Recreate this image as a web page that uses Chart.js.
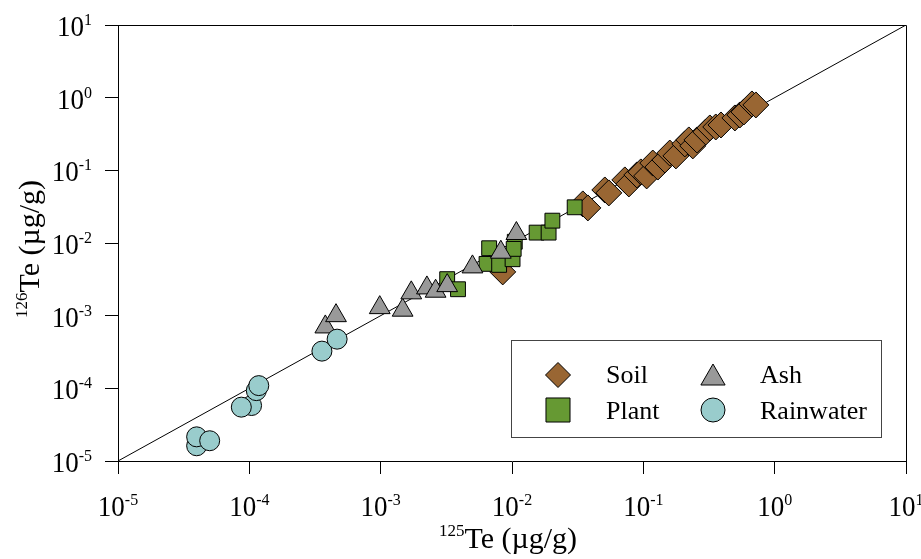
<!DOCTYPE html>
<html>
<head>
<meta charset="utf-8">
<script src="https://cdn.jsdelivr.net/npm/chart.js@4.4.0/dist/chart.umd.min.js"></script>
<style>
  body { margin: 0; background: #fff; }
  #wrap { width: 921px; height: 559px; }
</style>
</head>
<body>
<div id="wrap"><canvas id="teChart" width="921" height="559"></canvas></div>
<script>
// ----------- DATA (µg/g) -----------
const soilX = [0.0085, 0.0346, 0.0378, 0.0509, 0.0546, 0.0723, 0.0776, 0.0893, 0.0957, 0.106,
  0.118, 0.129, 0.146, 0.159, 0.177, 0.207, 0.222, 0.238, 0.256, 0.299,
  0.321, 0.356, 0.390, 0.498, 0.543, 0.583, 0.671, 0.719];
const soilY = [0.0040, 0.0345, 0.0304, 0.0537, 0.0489, 0.0738, 0.0650, 0.0865, 0.0951, 0.0838,
  0.126, 0.111, 0.139, 0.173, 0.158, 0.231, 0.262, 0.217, 0.262, 0.337,
  0.383, 0.395, 0.421, 0.526, 0.578, 0.636, 0.819, 0.794];

const plantX = [0.00321, 0.00388, 0.0067, 0.0064, 0.00798, 0.0101, 0.0105, 0.0103, 0.0154, 0.0190, 0.0203, 0.0300];
const plantY = [0.00318, 0.00231, 0.00847, 0.00516, 0.0050, 0.00598, 0.0104, 0.0083, 0.0139, 0.0139, 0.0203, 0.0310];

const ashX = [3.79e-4, 4.57e-4, 9.84e-4, 1.47e-3, 1.71e-3, 2.25e-3, 2.62e-3, 3.21e-3, 5.0e-3, 8.22e-3, 1.08e-2];
const ashY = [7.0e-4, 1.0e-3, 1.29e-3, 1.19e-3, 2.06e-3, 2.41e-3, 2.17e-3, 2.59e-3, 4.69e-3, 7.47e-3, 1.35e-2];

const rainX = [3.97e-5, 3.97e-5, 4.99e-5, 1.04e-4, 8.69e-5, 1.13e-4, 1.18e-4, 3.57e-4, 4.66e-4];
const rainY = [1.62e-5, 2.15e-5, 1.9e-5, 5.8e-5, 5.51e-5, 9.3e-5, 1.09e-4, 3.25e-4, 4.75e-4];

const lineX = [1e-5, 10];   // 1:1 line
const lineY = [1e-5, 10];

const decades = [-5, -4, -3, -2, -1, 0, 1];
const seriesNames = ["Soil", "Plant", "Ash", "Rainwater"];

const SOIL = "#996633", PLANT = "#669933", ASH = "#999999", RAIN = "#99cccc";
const SERIF = '"Liberation Serif", "Times New Roman", serif';

const toPoints = (xs, ys) => xs.map((x, i) => ({ x: x, y: ys[i] }));
const decadeTicks = (scale) => { scale.ticks = decades.map(e => ({ value: Math.pow(10, e) })); };

// text with a slight vertical stretch like the original figure
function txt(ctx, s, x, y, size, align, sy) {
  ctx.save();
  ctx.translate(x, y);
  ctx.scale(1, sy || 1);
  ctx.font = size + "px " + SERIF;
  ctx.textAlign = align || "left";
  ctx.textBaseline = "alphabetic";
  ctx.fillStyle = "#000";
  ctx.fillText(s, 0, 0);
  ctx.restore();
}
function width(ctx, s, size) {
  ctx.font = size + "px " + SERIF;
  return ctx.measureText(s).width;
}
function pow10(ctx, e, x, y, align) {
  const w1 = width(ctx, "10", 27), ex = String(e), w2 = width(ctx, ex, 16);
  const start = align === "center" ? x - (w1 + w2) / 2 : x - (w1 + w2);
  txt(ctx, "10", start, y, 27, "left", 1.1);
  txt(ctx, ex, start + w1, y - 11, 16, "left", 1.1);
}

const decorations = {
  id: "decorations",
  beforeDatasetsDraw(chart) {
    const { ctx, chartArea: a } = chart;
    ctx.save();
    ctx.strokeStyle = "#000";
    ctx.lineWidth = 1;
    ctx.beginPath();
    ctx.moveTo(Math.round(a.left) + 0.5, Math.round(a.top) + 0.5);
    ctx.lineTo(Math.round(a.right) + 0.5, Math.round(a.top) + 0.5);
    ctx.lineTo(Math.round(a.right) + 0.5, Math.round(a.bottom) + 0.5);
    ctx.stroke();
    ctx.restore();
  },
  afterDraw(chart) {
    const { ctx, chartArea: a } = chart;
    const xs = chart.scales.x, ys = chart.scales.y;
    // tick labels
    xs.ticks.forEach(t => {
      const e = Math.round(Math.log10(t.value));
      pow10(ctx, e, xs.getPixelForValue(t.value), a.bottom + 55, "center");
    });
    ys.ticks.forEach(t => {
      const e = Math.round(Math.log10(t.value));
      pow10(ctx, e, 92, ys.getPixelForValue(t.value) + 11, "right");
    });
    // axis titles
    const main = "Te (\u00b5g/g)";
    const wSupX = width(ctx, "125", 17), wMain = width(ctx, main, 30);
    const cx = (a.left + a.right) / 2 - 4;
    const sx = cx - (wSupX + wMain) / 2;
    txt(ctx, "125", sx, 536, 17);
    txt(ctx, main, sx + wSupX, 548, 30);

    ctx.save();
    ctx.translate(39, (a.top + a.bottom) / 2 + 6);
    ctx.rotate(-Math.PI / 2);
    const wSupY = width(ctx, "126", 17);
    const sy = -(wSupY + wMain) / 2;
    txt(ctx, "126", sy, -12, 17);
    txt(ctx, main, sy + wSupY, 0, 30);
    ctx.restore();

    // legend
    ctx.save();
    ctx.strokeStyle = "#444";
    ctx.lineWidth = 1;
    ctx.strokeRect(511.5, 340.5, 370, 97);
    const items = [
      { style: "rectRot", r: 12.5, fill: SOIL, x: 558, y: 375 },
      { style: "rect", r: 17, fill: PLANT, x: 558, y: 410 },
      { style: "triangle", r: 14, fill: ASH, x: 713, y: 378 },
      { style: "circle", r: 12, fill: RAIN, x: 713, y: 410 }
    ];
    items.forEach((it, i) => {
      ctx.fillStyle = it.fill;
      ctx.strokeStyle = "#000";
      ctx.lineWidth = 1;
      Chart.helpers.drawPoint(ctx, { pointStyle: it.style, radius: it.r, rotation: 0, borderWidth: 1 }, it.x, it.y);
      const ty = i % 2 === 0 ? 383 : 419;
      txt(ctx, seriesNames[i], i < 2 ? 606 : 760, ty, 26);
    });
    ctx.restore();
  }
};

function axis() {
  return {
    type: "logarithmic",
    min: 1e-5,
    max: 10,
    afterBuildTicks: decadeTicks,
    ticks: { display: false },
    grid: { drawOnChartArea: false, drawTicks: true, tickLength: 13, color: "#000", lineWidth: 1 },
    border: { color: "#000", width: 1 }
  };
}

const teCtx = document.getElementById("teChart").getContext("2d");
new Chart(teCtx, {
  type: "scatter",
  data: {
    datasets: [
      { label: "1:1", type: "line", data: toPoints(lineX, lineY), borderColor: "#000", borderWidth: 1,
        pointRadius: 0, fill: false, order: 5 },
      { label: seriesNames[0], data: toPoints(soilX, soilY), pointStyle: "rectRot", pointRadius: 13,
        backgroundColor: SOIL, borderColor: "#000", borderWidth: 1, order: 4 },
      { label: seriesNames[1], data: toPoints(plantX, plantY), pointStyle: "rect", pointRadius: 10.5,
        backgroundColor: PLANT, borderColor: "#000", borderWidth: 1, order: 3 },
      { label: seriesNames[2], data: toPoints(ashX, ashY), pointStyle: "triangle", pointRadius: 12,
        backgroundColor: ASH, borderColor: "#000", borderWidth: 1, order: 2 },
      { label: seriesNames[3], data: toPoints(rainX, rainY), pointStyle: "circle", pointRadius: 10,
        backgroundColor: RAIN, borderColor: "#000", borderWidth: 1, order: 1 }
    ]
  },
  options: {
    responsive: false,
    animation: false,
    events: [],
    layout: { padding: { left: 105, top: 25, right: 15, bottom: 85 } },
    plugins: { legend: { display: false }, tooltip: { enabled: false } },
    scales: { x: axis(), y: axis() }
  },
  plugins: [decorations]
});
</script>
</body>
</html>
